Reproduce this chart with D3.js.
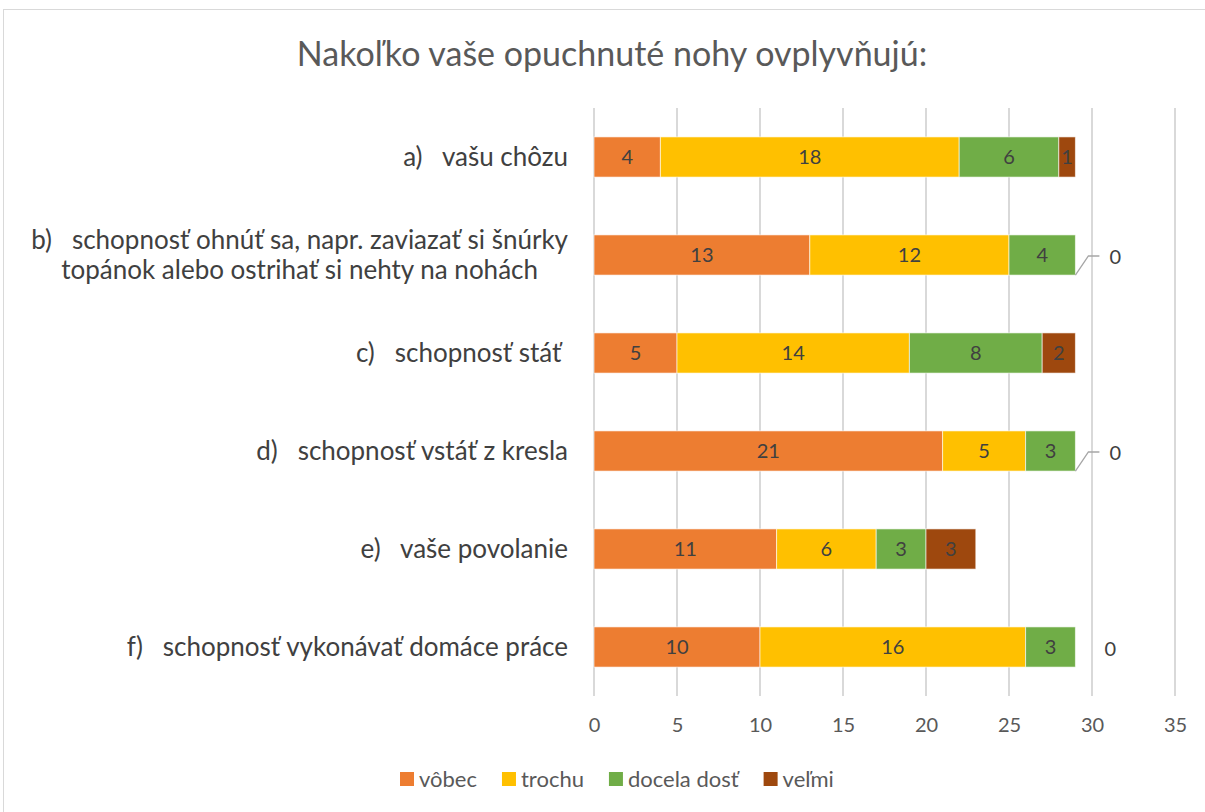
<!DOCTYPE html>
<html>
<head>
<meta charset="utf-8">
<script src="https://d3js.org/d3.v7.min.js"></script>
<style>
  body { margin: 0; background: #fff; }
  text { font-family: Lato, "Liberation Sans", sans-serif; }
</style>
</head>
<body>
<script>

// chart data
var categories = [
  ["a)   vašu chôzu"],
  ["b)   schopnosť ohnúť sa, napr. zaviazať si šnúrky", "topánok alebo ostrihať si nehty na nohách"],
  ["c)   schopnosť stáť "],
  ["d)   schopnosť vstáť z kresla"],
  ["e)   vaše povolanie"],
  ["f)   schopnosť vykonávať domáce práce"]
];
var seriesNames = ["vôbec", "trochu", "docela dosť", "veľmi"];
var vobec  = [4, 13, 5, 21, 11, 10];
var trochu = [18, 12, 14, 5, 6, 16];
var docela = [6, 4, 8, 3, 3, 3];
var velmi  = [1, 0, 2, 0, 3, 0];
var xTicks = [0, 5, 10, 15, 20, 25, 30, 35];
var colors = ["#ED7D31", "#FFC000", "#70AD47", "#9E480E"];

var W = 1205, H = 812;
var margin = {top: 108, left: 594};
var width = 1175 - margin.left,
    height = 696 - margin.top;

var svg = d3.select("body").append("svg")
  .attr("width", W)
  .attr("height", H);

// outer chart border
svg.append("rect")
  .attr("x", 3.5).attr("y", 9.5)
  .attr("width", W + 10).attr("height", H + 10)
  .attr("fill", "none")
  .attr("stroke", "#d9d9d9")
  .attr("stroke-width", 1);

svg.append("text")
  .attr("x", 612).attr("y", 66)
  .attr("text-anchor", "middle")
  .attr("fill", "#595959")
  .style("font-size", "34px")
  .text("Nakoľko vaše opuchnuté nohy ovplyvňujú:");

var g = svg.append("g")
  .attr("transform", "translate(" + margin.left + "," + margin.top + ")");

var rows = categories.map(function(c, i) {
  return {idx: i, "vôbec": vobec[i], "trochu": trochu[i], "docela dosť": docela[i], "veľmi": velmi[i]};
});

var stack = d3.stack().keys(seriesNames)(rows);

var x = d3.scaleLinear().domain([0, 35]).range([0, width]);
var y = d3.scaleBand().domain(d3.range(categories.length)).range([0, height]).paddingInner(0.59).paddingOuter(0.295);

// gridlines
g.append("g")
  .selectAll("line")
  .data(xTicks).enter()
  .append("line")
  .attr("x1", function(d) { return x(d); })
  .attr("x2", function(d) { return x(d); })
  .attr("y1", 0).attr("y2", height)
  .attr("stroke", "#d9d9d9")
  .attr("stroke-width", 2);

// x tick labels
var xAxis = d3.axisBottom(x).tickValues(xTicks).tickSize(0).tickPadding(22);
var xg = g.append("g").attr("transform", "translate(0," + height + ")").call(xAxis);
xg.select(".domain").remove();
xg.selectAll("text").attr("fill", "#595959").style("font-size", "20px").style("font-family", "Lato, sans-serif");

// bars
var layers = g.selectAll(".layer")
  .data(stack).enter()
  .append("g")
  .attr("fill", function(d, i) { return colors[i]; });

layers.selectAll("rect")
  .data(function(d) { return d; }).enter()
  .append("rect")
  .attr("x", function(d) { return x(d[0]); })
  .attr("y", function(d) { return y(d.data.idx); })
  .attr("width", function(d) { return x(d[1]) - x(d[0]); })
  .attr("height", y.bandwidth())
  .attr("stroke", "#fff")
  .attr("stroke-opacity", 0.6)
  .attr("stroke-width", 1);

// data labels
stack.forEach(function(layer, si) {
  layer.forEach(function(d) {
    var v = d[1] - d[0];
    var cy = y(d.data.idx) + y.bandwidth() / 2;
    if (v > 0) {
      g.append("text")
        .attr("x", (x(d[0]) + x(d[1])) / 2)
        .attr("y", cy)
        .attr("dy", "0.35em")
        .attr("text-anchor", "middle")
        .attr("fill", "#404040")
        .style("font-size", "20px")
        .text(v);
    } else {
      var ex = x(d[1]);
      var bottom = y(d.data.idx) + y.bandwidth();
      if (d.data.idx === categories.length - 1) {
        // last one sits beside the bar, no leader line
        g.append("text")
          .attr("x", ex + 35).attr("y", cy + 2)
          .attr("dy", "0.35em")
          .attr("text-anchor", "middle")
          .attr("fill", "#404040")
          .style("font-size", "20px")
          .text(v);
      } else {
        g.append("path")
          .attr("d", "M" + ex + "," + bottom + "L" + (ex + 13) + "," + (cy + 1) + "L" + (ex + 24) + "," + (cy + 1))
          .attr("fill", "none")
          .attr("stroke", "#a6a6a6")
          .attr("stroke-width", 1.3);
        g.append("text")
          .attr("x", ex + 40).attr("y", cy + 2)
          .attr("dy", "0.35em")
          .attr("text-anchor", "middle")
          .attr("fill", "#404040")
          .style("font-size", "20px")
          .text(v);
      }
    }
  });
});

// category labels
var labelRight = -26;
categories.forEach(function(lines, i) {
  var cy = y(i) + y.bandwidth() / 2;
  var t = g.append("text")
    .attr("fill", "#404040")
    .attr("xml:space", "preserve")
    .style("white-space", "pre")
    .style("font-size", "26px");
  if (lines.length === 1) {
    t.attr("x", labelRight).attr("y", cy).attr("dy", "0.35em")
      .attr("text-anchor", "end").text(lines[0]);
  } else {
    var spans = lines.map(function(l, k) {
      return t.append("tspan").attr("y", cy + (k - (lines.length - 1) / 2) * 30).attr("dy", "0.35em").text(l);
    });
    var maxW = d3.max(spans, function(s) { return s.node().getComputedTextLength(); });
    spans.forEach(function(s) {
      s.attr("x", labelRight - maxW / 2).attr("text-anchor", "middle");
    });
  }
});

// legend
var legend = svg.append("g").attr("transform", "translate(0,779)");
var lx = 400;
seriesNames.forEach(function(name, i) {
  var item = legend.append("g").attr("transform", "translate(" + lx + ",0)");
  item.append("rect").attr("x", 0).attr("y", -7).attr("width", 14).attr("height", 14).attr("fill", colors[i]);
  var tx = item.append("text").attr("x", 19).attr("y", 0).attr("dy", "0.35em")
    .attr("fill", "#595959").style("font-size", "22px").text(name);
  lx += 19 + tx.node().getComputedTextLength() + 25;
});

</script>
</body>
</html>
